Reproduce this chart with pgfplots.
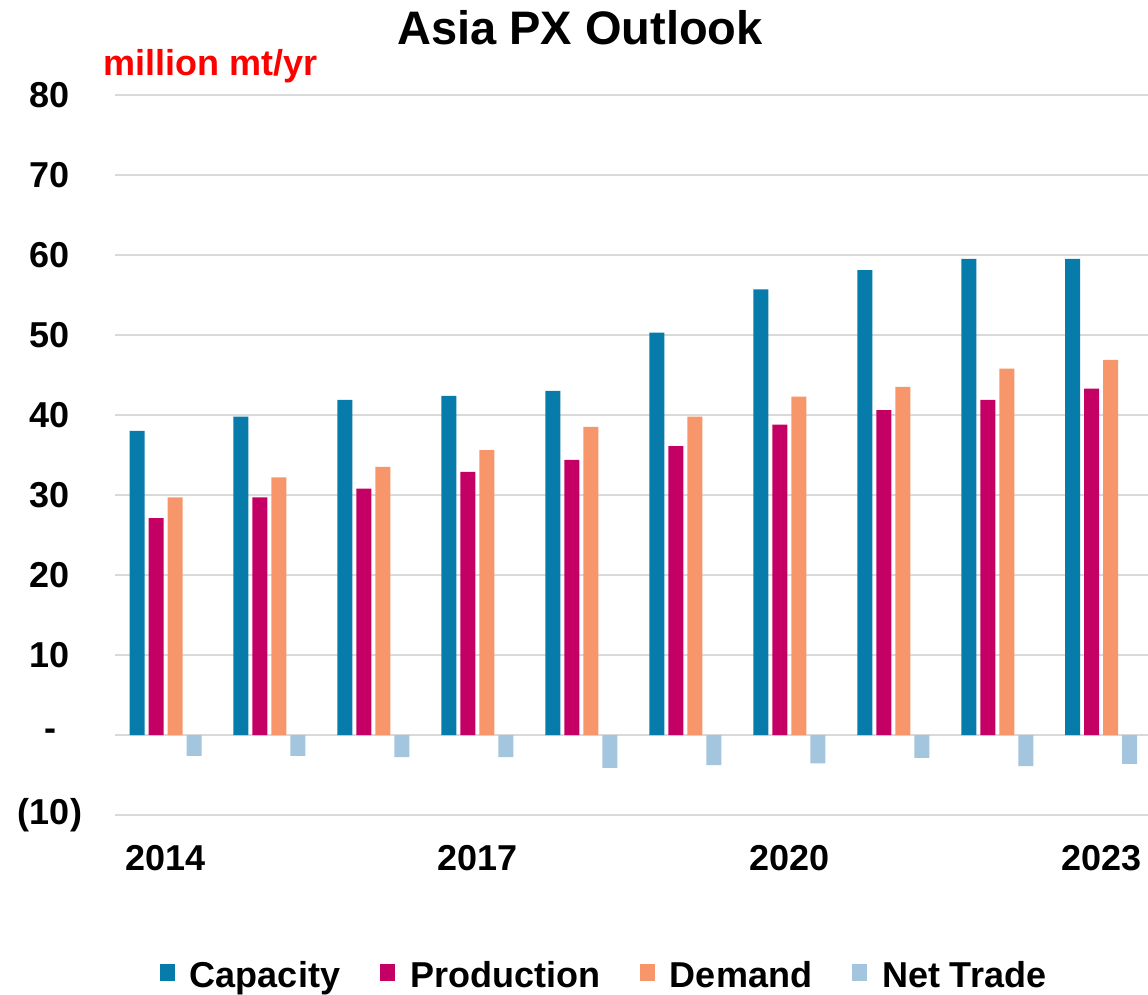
\documentclass[border=0pt]{standalone}
\usepackage{fontspec}
\setmainfont{Liberation Sans}
\usepackage{pgfplots}
\pgfplotsset{compat=1.18}
\definecolor{capc}{RGB}{7,124,171}
\definecolor{prodc}{RGB}{196,0,100}
\definecolor{demc}{RGB}{247,150,106}
\definecolor{netc}{RGB}{163,197,221}
\definecolor{gridc}{RGB}{217,217,217}
\newcommand{\bigf}{\fontsize{36bp}{40bp}\selectfont\bfseries}
\begin{document}
\begin{tikzpicture}[x=1bp,y=1bp]
\useasboundingbox (-115,-180) rectangle (1033,815);
\begin{axis}[
  at={(0,0)}, anchor=south west,
  scale only axis, width=1033bp, height=720bp,
  xmin=-0.486, xmax=9.45, ymin=-10, ymax=80,
  ybar=4bp, bar width=15bp,
  xtick={0,3,6,9}, xticklabels={2014,2017,2020,2023},
  ytick={-10,0,10,20,30,40,50,60,70,80},
  yticklabels={(10),-,10,20,30,40,50,60,70,80},
  ticklabel style={font=\bigf},
  yticklabel style={anchor=center, xshift=-65bp},
  xticklabel style={anchor=center, yshift=-43bp},
  major tick length=0pt,
  axis line style={draw=none},
  ymajorgrids, grid style={line width=1.5bp, color=gridc},
  legend columns=4,
  legend style={at={(0.4734,-0.2222)}, anchor=center, draw=none, fill=none,
    font=\bigf, /tikz/every even column/.append style={column sep=38bp}},
  every axis plot post/.append style={legend image code/.code={\fill[##1,draw=none] (0bp,-6bp) rectangle (15bp,11bp); \path (28bp,0bp);}},
]
\addplot[fill=capc, draw=none] coordinates {(0,38.0) (1,39.8) (2,41.9) (3,42.4) (4,43.0) (5,50.3) (6,55.7) (7,58.1) (8,59.5) (9,59.5)};
\addplot[fill=prodc, draw=none] coordinates {(0,27.1) (1,29.7) (2,30.8) (3,32.9) (4,34.4) (5,36.1) (6,38.8) (7,40.6) (8,41.9) (9,43.3)};
\addplot[fill=demc, draw=none] coordinates {(0,29.7) (1,32.2) (2,33.5) (3,35.6) (4,38.5) (5,39.8) (6,42.3) (7,43.5) (8,45.8) (9,46.9)};
\addplot[fill=netc, draw=none] coordinates {(0,-2.6) (1,-2.6) (2,-2.75) (3,-2.75) (4,-4.1) (5,-3.75) (6,-3.55) (7,-2.85) (8,-3.9) (9,-3.6)};
\legend{Capacity,Production,Demand,Net Trade}
\end{axis}
\node[font=\fontsize{47bp}{50bp}\selectfont\bfseries] at (465,787) {Asia PX Outlook};
\node[anchor=base west, inner sep=0pt, text=red, font=\bigf] at (-12,739) {million mt/yr};
\end{tikzpicture}
\end{document}
